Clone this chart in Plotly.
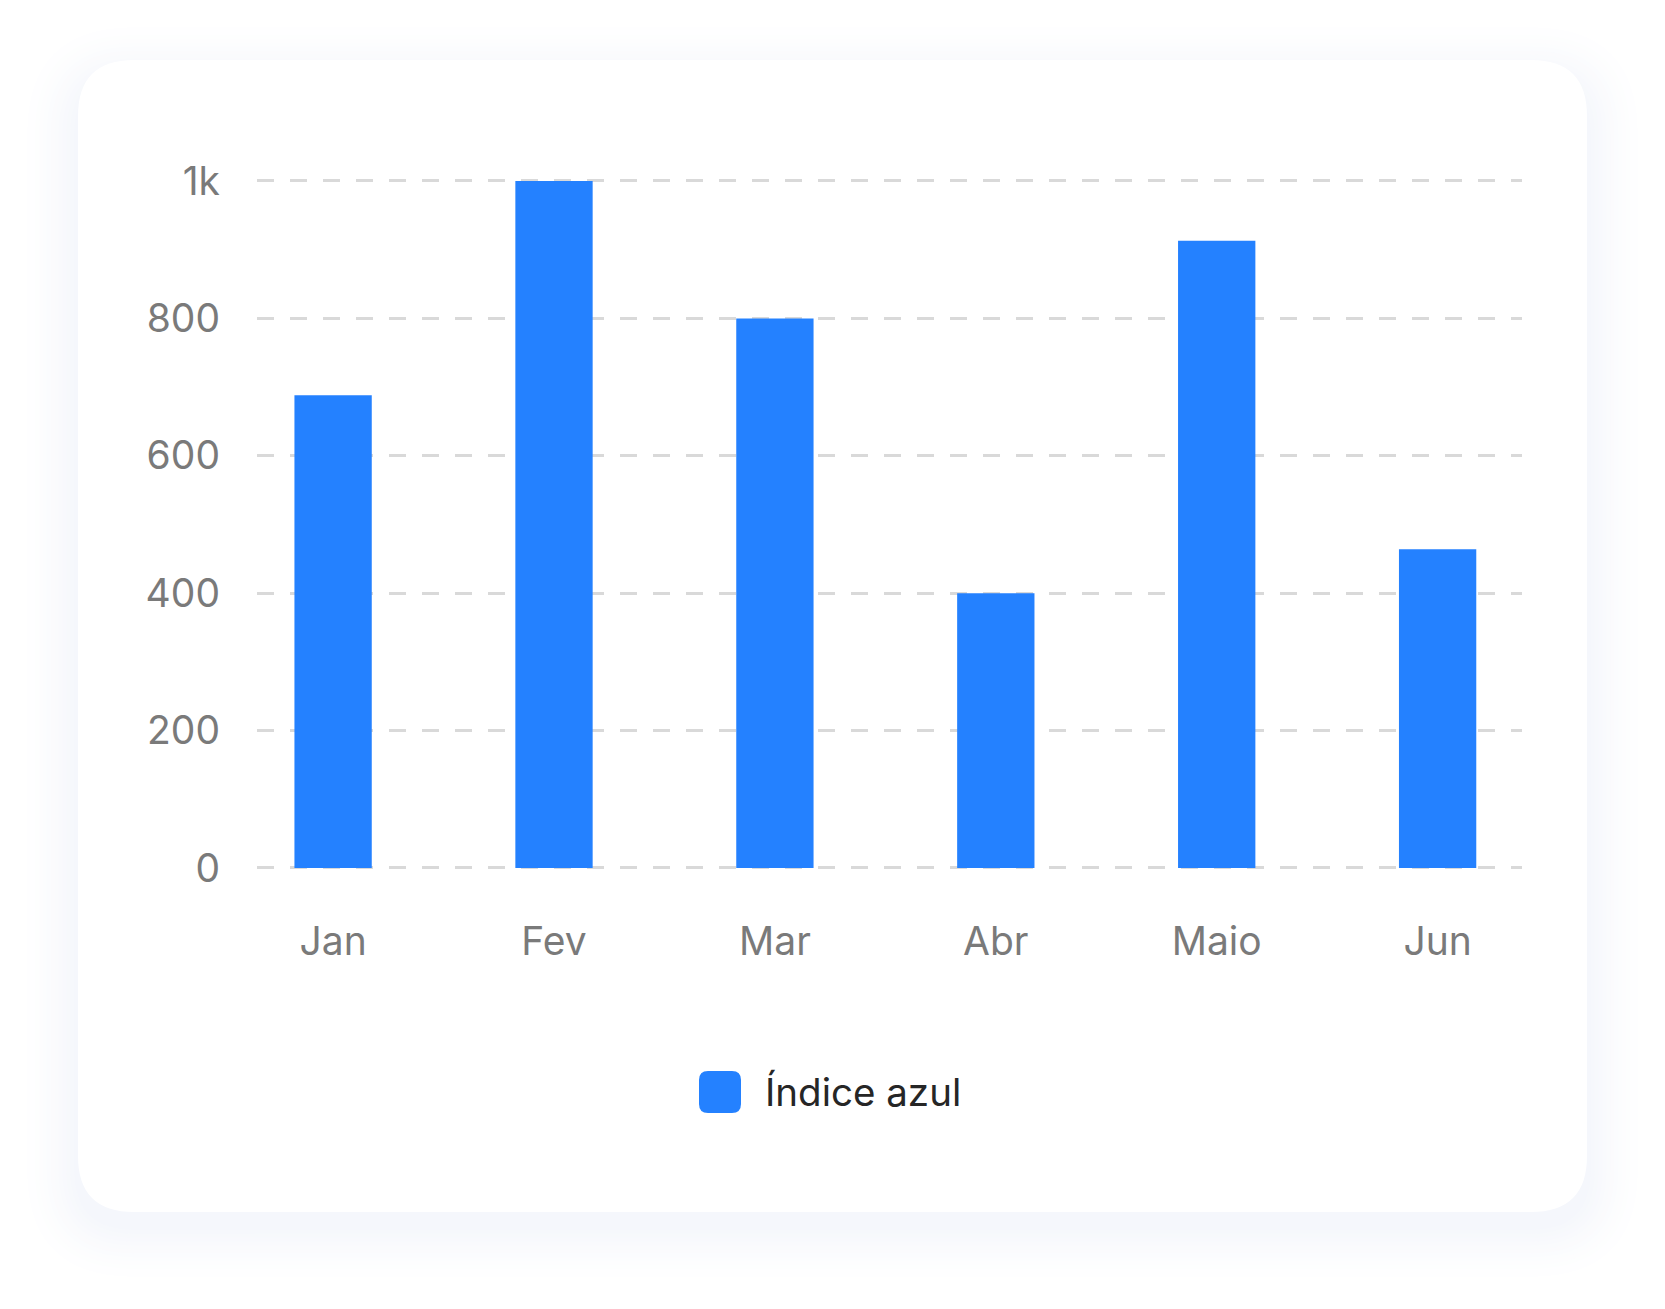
import plotly.graph_objects as go

# ---- data ----
months = ["Jan", "Fev", "Mar", "Abr", "Maio", "Jun"]
values = [688, 1000, 800, 400, 913, 464]
series_name = "Índice azul"
y_tick_vals = [0, 200, 400, 600, 800, 1000]
y_tick_text = ["0", "200", "400", "600", "800", "1k"]

W, H = 1665, 1309
BAR = "#2481ff"
FONT = "Inter"


def px_x(x):
    return x / W


def px_y(y):
    return 1 - y / H


def rrect(x0, y0, x1, y1, r):
    """rounded rectangle path in paper coords from pixel coords"""
    p = []
    p.append(f"M {px_x(x0 + r)},{px_y(y0)}")
    p.append(f"L {px_x(x1 - r)},{px_y(y0)}")
    p.append(f"Q {px_x(x1)},{px_y(y0)} {px_x(x1)},{px_y(y0 + r)}")
    p.append(f"L {px_x(x1)},{px_y(y1 - r)}")
    p.append(f"Q {px_x(x1)},{px_y(y1)} {px_x(x1 - r)},{px_y(y1)}")
    p.append(f"L {px_x(x0 + r)},{px_y(y1)}")
    p.append(f"Q {px_x(x0)},{px_y(y1)} {px_x(x0)},{px_y(y1 - r)}")
    p.append(f"L {px_x(x0)},{px_y(y0 + r)}")
    p.append(f"Q {px_x(x0)},{px_y(y0)} {px_x(x0 + r)},{px_y(y0)}")
    p.append("Z")
    return " ".join(p)


shapes = []
# soft shadow around the card: opaque layers, lightest outside
cx0, cy0, cx1, cy1, cr = 78, 60, 1587, 1212, 56
N = 16
for k in range(N, 0, -1):
    s = k * 3.9
    t = (k - 1) / (N - 1)
    a = (1 - t) ** 1.6
    col = "rgb({},{},{})".format(round(255 - a * 10), round(255 - a * 8), round(255 - a * 3.5))
    shapes.append(dict(
        type="path", xref="paper", yref="paper", layer="below",
        path=rrect(cx0 - s, cy0 - s + 18, cx1 + s, cy1 + s + 14, cr + s),
        fillcolor=col, line=dict(width=0),
    ))
# card
shapes.append(dict(
    type="path", xref="paper", yref="paper", layer="below",
    path=rrect(cx0, cy0, cx1, cy1, cr),
    fillcolor="#ffffff", line=dict(width=0),
))
# legend swatch
shapes.append(dict(
    type="path", xref="paper", yref="paper", layer="above",
    path=rrect(699, 1071, 741, 1113, 9),
    fillcolor=BAR, line=dict(width=0),
))

fig = go.Figure()
fig.add_trace(go.Bar(
    x=months, y=values, name=series_name,
    marker=dict(color=BAR, line=dict(width=0)),
    width=0.35, showlegend=False,
))

fig.update_layout(
    width=W, height=H,
    margin=dict(l=0, r=0, t=0, b=0, pad=0),
    paper_bgcolor="#ffffff",
    plot_bgcolor="rgba(0,0,0,0)",
    font=dict(family=FONT),
    showlegend=False,
    shapes=shapes,
    annotations=[dict(
        text=series_name, xref="paper", yref="paper",
        x=px_x(763), y=px_y(1092), xanchor="left", yanchor="middle",
        showarrow=False, font=dict(family=FONT, size=38.5, color="#262626"),
    )],
    xaxis=dict(
        domain=[px_x(257), px_x(1522)],
        range=[-0.3445, 5.382],
        showgrid=False, zeroline=False, showline=False, ticks="",
        tickfont=dict(family=FONT, size=39, color="#7a7a7a"),
        ticklabelstandoff=35,
        automargin=False,
        fixedrange=True,
    ),
    yaxis=dict(
        domain=[px_y(880), px_y(170)],
        range=[-17.5, 1016.0],
        tickvals=y_tick_vals, ticktext=y_tick_text,
        showgrid=True, gridcolor="#d9d9d9", gridwidth=2.5,
        griddash="17px,16px",
        zeroline=False, showline=False, ticks="",
        tickfont=dict(family=FONT, size=39, color="#7a7a7a"),
        ticklabelstandoff=36,
        automargin=False,
        fixedrange=True,
    ),
)

fig.write_html(
    "out.html",
    config={"displayModeBar": False},
    post_script="document.body.style.margin='0';document.body.style.overflow='hidden';",
)
